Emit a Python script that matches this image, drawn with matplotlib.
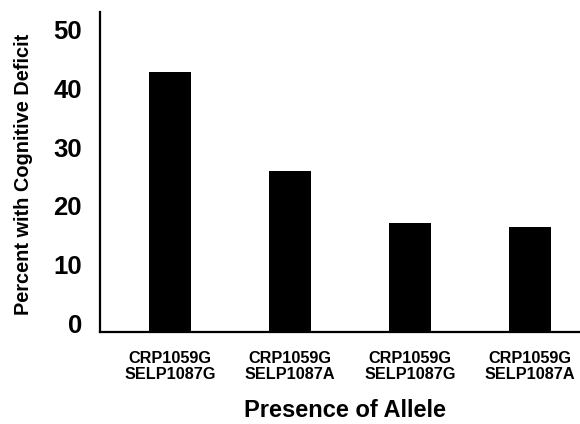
import matplotlib
matplotlib.use('Agg')
import matplotlib.pyplot as plt
import matplotlib.transforms as mtransforms

# 数据
categories = ['CRP1059G\nSELP1087G', 'CRP1059G\nSELP1087A',
              'CRP1059G\nSELP1087G', 'CRP1059G\nSELP1087A']
percent = [44.1, 27.3, 18.4, 17.7]
yticks = [0, 10, 20, 30, 40, 50]

plt.rcParams['font.family'] = ['Liberation Sans', 'DejaVu Sans']

fig = plt.figure(figsize=(5.8, 4.24), dpi=100)
ax = fig.add_axes([100/580, 1 - 331.7/424, 480/580, 319.7/424])

x = list(range(len(categories)))
ax.bar(x, percent, width=0.35, color='black')

ax.set_xlim(-0.583, 3.417)
ax.set_ylim(0, 54.3)
ax.set_xticks(x)
ax.set_xticklabels(categories, fontsize=11.7, fontweight='bold', linespacing=1.1)
ax.set_yticks(yticks)
ax.set_yticklabels([str(v) for v in yticks], fontsize=18.5, fontweight='bold')
ax.tick_params(axis='both', length=0)
ax.tick_params(axis='x', pad=14)
ax.tick_params(axis='y', pad=13)

# 纵轴标签整体上移（原图标签与刻度不对齐）
shift = mtransforms.ScaledTranslation(0, 8/100, fig.dpi_scale_trans)
for lab in ax.get_yticklabels():
    lab.set_transform(lab.get_transform() + shift)

for s in ['top', 'right']:
    ax.spines[s].set_visible(False)
for s in ['left', 'bottom']:
    ax.spines[s].set_linewidth(1.6)

ax.set_ylabel('Percent with Cognitive Deficit', fontsize=14.4, fontweight='bold',
              ha='center', va='center')
ax.yaxis.set_label_coords(-0.160, 0.493)
ax.set_xlabel('Presence of Allele', fontsize=17, fontweight='bold',
              ha='center', va='center')
ax.xaxis.set_label_coords(0.510, -0.245)

fig.savefig('out.png', dpi=100)
